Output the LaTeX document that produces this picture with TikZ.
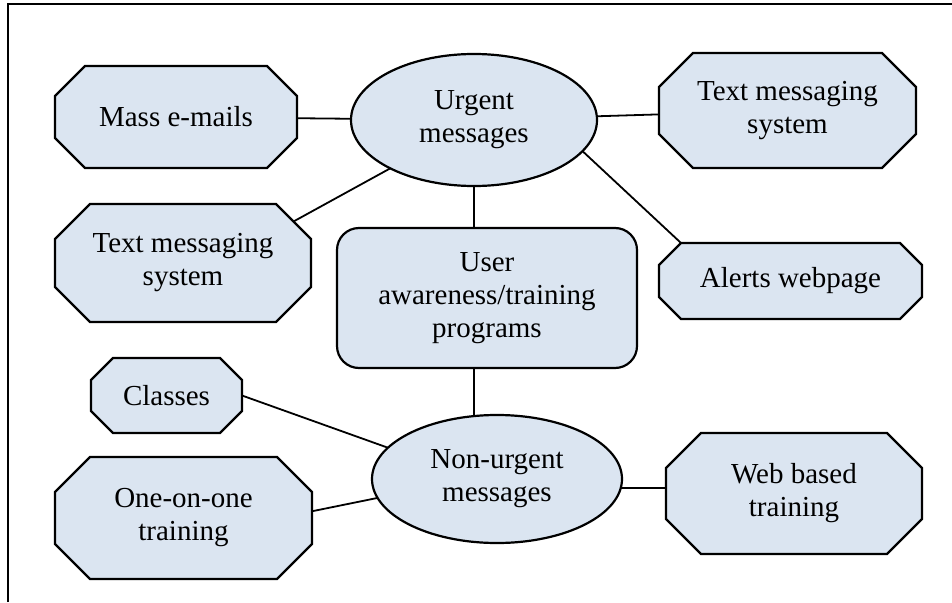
\documentclass[tikz,border=0pt]{standalone}
\usepackage{fontspec}
\setmainfont{Liberation Serif}
\usetikzlibrary{shapes.geometric,calc,backgrounds}
\definecolor{boxfill}{HTML}{DBE5F1}
\tikzset{
  labelfont/.style={font=\fontsize{29}{33}\selectfont},
  shapeline/.style={draw=black, line width=2.2pt, fill=boxfill},
  octnode/.style={rectangle, draw=none, inner sep=0pt, outer sep=0pt, align=center, labelfont},
  ellnode/.style={ellipse, shapeline, inner sep=0pt, outer sep=0pt, align=center, labelfont},
  roundbox/.style={rectangle, rounded corners=22pt, shapeline, inner sep=0pt, outer sep=0pt, align=center, labelfont},
  conn/.style={draw=black, line width=1.8pt},
  frameline/.style={draw=black, line width=2.4pt},
}
% name, x, y, width, height, chamfer, text
\newcommand\octbox[7]{%
  \node[octnode, minimum width=#4pt, minimum height=#5pt] (#1) at (#2,#3) {#7};
  \begin{pgfonlayer}{background}
    \path[shapeline] ($(#1.north west)+(#6,0)$) -- ($(#1.north east)+(-#6,0)$)
      -- ($(#1.north east)+(0,#6)$) -- ($(#1.south east)+(0,-#6)$)
      -- ($(#1.south east)+(-#6,0)$) -- ($(#1.south west)+(#6,0)$)
      -- ($(#1.south west)+(0,-#6)$) -- ($(#1.north west)+(0,#6)$) -- cycle;
  \end{pgfonlayer}
  \coordinate (#1-nec) at ($(#1.north east)+(-#6/2,#6/2)$);
  \coordinate (#1-tl) at ($(#1.north west)+(#6,0)$);
}
\begin{document}
\begin{tikzpicture}[x=1pt, y=-1pt]
\useasboundingbox (0,0) rectangle (952,602);
\draw[frameline] (8,602) -- (8,4) -- (952,4);

\octbox{me}{176}{117}{242}{102}{30}{Mass e-mails}
\octbox{tmsr}{787.5}{110.5}{257}{115}{34}{Text messaging\\system}
\octbox{tmsl}{183}{263}{256}{118}{35}{Text messaging\\system}
\octbox{al}{790.5}{281}{263}{76}{22}{Alerts webpage}
\octbox{cl}{166.5}{395.5}{151}{75}{22}{Classes}
\octbox{oo}{183.5}{518}{257}{122}{35}{One-on-one\\training}
\octbox{wb}{794}{493.5}{256}{121}{35}{Web based\\training}

\node[ellnode, minimum width=246pt, minimum height=132pt] (u) at (474,120) {Urgent\\messages};
\node[ellnode, minimum width=250pt, minimum height=128pt] (nu) at (497,479) {Non-urgent\\messages};
\node[roundbox, minimum width=300pt, minimum height=140pt] (uat) at (487,298) {User\\awareness/training\\programs};

\draw[conn] (me) -- (u);
\draw[conn] (u) -- (tmsr);
\draw[conn] (u.210) -- (tmsl-nec);
\draw[conn] (u.344) -- (al-tl);
\draw[conn] (u.south) -- (u.south |- uat.north);
\draw[conn] (u.south |- uat.south) -- (u.south |- nu.110);
\draw[conn] (cl.east) -- (nu.164);
\draw[conn] (oo.3) -- (nu.189);
\draw[conn] (nu.356) -- (nu.356 -| wb.west);
\end{tikzpicture}
\end{document}
